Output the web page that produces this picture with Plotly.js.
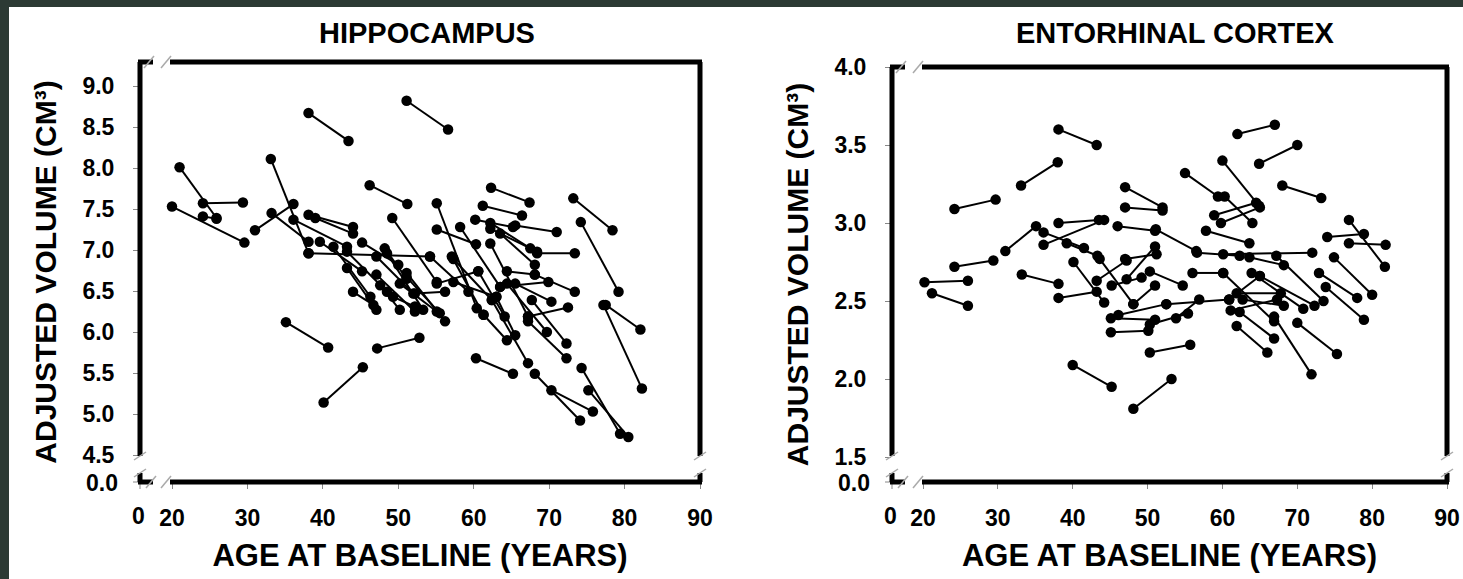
<!DOCTYPE html>
<html>
<head>
<meta charset="utf-8">
<script src="https://cdn.plot.ly/plotly-3.0.1.min.js"></script>
<style>html,body{margin:0;padding:0;background:#2c3a34;}#chart{width:1463px;height:579px;}</style>
</head>
<body>
<div id="chart"></div>
<script>
// ---------- DATA ----------
// Hippocampus: baseline age/volume and follow-up age/volume for each subject
const hippoAge1 = [38.1,21.0,20.0,24.1,24.1,33.1,31.0,33.2,36.1,38.1,39.0,35.1,40.1,38.1,39.6,41.4,43.2,43.2,45.2,44.0,46.2,47.2,
  47.1,48.2,48.5,47.1,47.6,49.3,49.2,50.2,51.1,51.1,51.1,52.2,54.2,55.1,55.1,57.3,57.1,57.3,58.2,55.1,
  60.2,65.5,61.2,62.3,62.2,62.2,63.5,62.2,60.6,64.4,63.5,64.4,65.5,62.4,63.0,61.3,67.7,67.2,68.1,67.2,68.4,60.3,68.1,70.3,74.3,75.2,73.2,74.2,77.2,77.5];
const hippoVol1 = [8.67,8.01,7.53,7.57,7.41,8.11,7.24,7.45,7.37,7.43,7.39,6.12,5.14,6.96,7.10,7.04,6.98,6.78,7.09,6.49,7.79,5.80,
  6.92,7.02,6.96,6.70,6.57,6.43,7.39,6.59,6.72,8.82,6.67,6.47,6.92,7.57,7.25,6.89,6.92,6.61,7.28,6.59,
  7.37,7.30,7.54,7.76,7.33,7.26,7.20,7.08,6.74,6.74,6.55,6.59,6.59,6.39,6.43,6.21,6.39,6.13,6.70,6.19,6.96,5.68,5.49,5.29,5.56,5.29,7.63,7.34,6.33,6.33];
const hippoAge2 = [43.4,25.9,29.6,29.4,25.9,38.1,36.1,38.1,43.2,44.0,44.0,40.7,45.3,54.2,45.2,46.3,48.5,47.1,50.0,46.7,51.2,52.8,
  52.0,51.1,53.3,52.2,50.2,52.2,55.1,55.1,56.2,56.6,55.5,56.2,59.3,60.4,60.3,62.4,61.3,63.0,63.5,60.6,
  65.2,71.0,66.4,67.4,67.5,68.4,68.1,67.2,64.1,68.1,69.9,69.7,70.3,67.2,65.5,64.4,72.3,72.3,73.4,72.5,73.4,65.2,74.1,75.8,79.4,80.5,78.4,79.2,82.3,82.1];
const hippoVol2 = [8.33,7.39,7.09,7.58,7.38,6.96,7.56,7.10,7.04,7.28,7.20,5.81,5.57,6.92,6.74,6.43,6.49,6.27,6.82,6.33,7.56,5.93,
  6.47,6.65,6.27,6.25,6.27,6.31,6.61,6.25,6.13,8.47,6.23,6.49,6.49,6.29,7.07,6.39,6.21,6.43,6.55,6.74,
  7.28,7.22,7.42,7.58,7.02,6.98,6.82,6.19,6.19,6.70,6.61,6.00,6.37,5.62,5.96,5.90,5.86,5.68,6.49,6.30,6.96,5.49,4.92,5.03,4.76,4.72,7.24,6.49,5.31,6.03];

// Entorhinal cortex
const ecAge1 = [20.2,21.2,24.2,24.2,31.0,33.1,38.1,33.2,38.1,36.1,36.1,38.1,40.0,48.1,47.0,47.0,46.0,55.0,60.0,62.0,64.9,68.0,58.9,59.8,60.3,57.8,51.1,60.1,
  74.0,76.9,76.9,74.9,72.9,73.8,70.0,66.9,61.9,45.1,45.1,46.1,50.3,40.1,39.2,43.2,45.2,43.6,47.2,47.0,48.1,50.3,50.3,53.8,52.5,56.0,56.6,61.1,62.3,61.9,62.7,63.9,65.0,63.6,67.2,60.1,60.9];
const ecVol1 = [2.62,2.55,3.09,2.72,2.82,3.24,3.60,2.67,3.00,2.86,2.94,2.52,2.09,1.81,3.23,3.10,2.98,3.32,3.40,3.57,3.38,3.24,3.05,3.00,3.17,2.95,2.96,2.80,
  2.91,3.02,2.87,2.78,2.68,2.59,2.36,2.40,2.34,2.30,2.39,2.41,2.17,2.75,2.87,2.63,2.60,2.77,2.64,2.77,2.48,2.69,2.35,2.39,2.48,2.68,2.81,2.44,2.43,2.55,2.51,2.68,2.66,2.78,2.79,2.68,2.51];
const ecAge2 = [26.0,26.0,29.7,29.4,35.1,38.0,43.2,38.1,43.5,44.2,41.5,43.2,45.2,53.2,52.0,52.0,51.0,59.4,64.9,67.0,70.0,73.2,64.5,65.0,64.0,63.6,56.5,72.0,
  78.9,81.7,81.8,80.0,78.0,78.9,75.3,71.9,66.0,50.1,51.0,52.5,55.7,44.2,43.3,47.2,49.2,48.1,51.0,51.2,51.0,54.7,55.4,56.9,60.9,60.1,62.3,67.3,66.9,67.8,68.2,70.8,72.3,68.2,73.5,66.9,65.0];
const ecVol2 = [2.63,2.47,3.15,2.76,2.98,3.39,3.50,2.61,3.02,3.02,2.84,2.56,1.95,2.00,3.10,3.08,2.95,3.17,3.11,3.63,3.50,3.16,3.13,3.10,3.00,2.87,2.82,2.81,
  2.93,2.72,2.86,2.54,2.52,2.38,2.16,2.03,2.17,2.31,2.38,2.48,2.22,2.49,2.79,2.76,2.65,2.48,2.85,2.80,2.60,2.60,2.42,2.51,2.51,2.68,2.79,2.51,2.26,2.55,2.47,2.45,2.47,2.73,2.50,2.37,2.66];

const xTicks = [20,30,40,50,60,70,80,90];
const hippoYTicks = [4.5,5.0,5.5,6.0,6.5,7.0,7.5,8.0,8.5,9.0];
const ecYTicks = [1.5,2.0,2.5,3.0,3.5,4.0];
const zeroXLabel = '0';
const zeroYLabel = '0.0';
const panelTitles = ['HIPPOCAMPUS','ENTORHINAL CORTEX'];
const xTitle = 'AGE AT BASELINE (YEARS)';
const yTitle = 'ADJUSTED VOLUME (CM³)';

// ---------- helpers ----------
const W = 1463, H = 579;
const PX = v => v / W;
const PY = v => 1 - v / H;
function pairs(a1, v1, a2, v2) {
  const x = [], y = [];
  for (let i = 0; i < a1.length; i++) { x.push(a1[i], a2[i], null); y.push(v1[i], v2[i], null); }
  return {x, y};
}
const FONT = 'Liberation Sans, Arial, sans-serif';
const TICK_SIZE = 23;
const tickFont = {family: FONT, size: TICK_SIZE, color: '#000', weight: 700};
const xTitleFont = {family: FONT, size: 31, color: '#000', weight: 700};
const yTitleFont = {family: FONT, size: 30, color: '#000', weight: 700};
const panelFont = {family: FONT, size: 29, color: '#000', weight: 700};

const L = {x0: 140, x1: 700, y0: 62, y1: 482};
const R = {x0: 892, x1: 1447, y0: 67, y1: 482};

const hp = pairs(hippoAge1, hippoVol1, hippoAge2, hippoVol2);
const ep = pairs(ecAge1, ecVol1, ecAge2, ecVol2);
const mk = {symbol: 'circle', size: 10.5, color: '#000'};
const ln = {color: '#000', width: 2};
const traces = [
  {type: 'scatter', mode: 'lines+markers', x: hp.x, y: hp.y, xaxis: 'x', yaxis: 'y', marker: mk, line: ln, connectgaps: false, hoverinfo: 'x+y', showlegend: false},
  {type: 'scatter', mode: 'lines+markers', x: ep.x, y: ep.y, xaxis: 'x2', yaxis: 'y2', marker: mk, line: ln, connectgaps: false, hoverinfo: 'x+y', showlegend: false}
];

const baseAxis = {showgrid: false, zeroline: false, showline: false, ticks: 'outside', ticklen: 6, tickwidth: 1, tickcolor: '#888', tickfont: tickFont, fixedrange: true};

function shapesFor(P) {
  const s = [];
  const thick = {color: '#000', width: 5};
  const slash = {color: '#aaa', width: 1.5};
  const tick = {color: '#888', width: 1};
  const gx0 = P.x0 + 13, gx1 = P.x0 + 30;  // x-break gap
  const gy0 = 456, gy1 = 473;              // y-break gap
  const seg = (x0, y0, x1, y1, line) => s.push({type: 'line', xref: 'paper', yref: 'paper', x0: PX(x0), y0: PY(y0), x1: PX(x1), y1: PY(y1), line});
  // zero ticks of the broken axes
  seg(P.x0, P.y1, P.x0, P.y1 + 7, tick);
  seg(P.x0 - 7, P.y1, P.x0, P.y1, tick);
  // top
  seg(P.x0 - 2, P.y0, gx0, P.y0, thick); seg(gx1, P.y0, P.x1 + 2, P.y0, thick);
  // bottom
  seg(P.x0 - 2, P.y1, gx0, P.y1, thick); seg(gx1, P.y1, P.x1 + 2, P.y1, thick);
  // left
  seg(P.x0, P.y0, P.x0, gy0, thick); seg(P.x0, gy1, P.x0, P.y1, thick);
  // right
  seg(P.x1, P.y0, P.x1, gy0, thick); seg(P.x1, gy1, P.x1, P.y1, thick);
  // slashes
  [[gx0 - 4, P.y0], [gx1 - 4, P.y0], [gx0 - 2, P.y1], [gx1 - 4, P.y1]].forEach(([cx, cy]) => seg(cx - 5, cy + 6, cx + 5, cy - 6, slash));
  [[P.x0, gy0], [P.x0, gy1], [P.x1, gy0], [P.x1, gy1]].forEach(([cx, cy]) => seg(cx - 6, cy + 4, cx + 6, cy - 4, slash));
  return s;
}
function zeroLabels(P) {
  return [
    {text: zeroXLabel, xref: 'paper', yref: 'paper', x: PX(P.x0 - 2), y: PY(516), showarrow: false, font: tickFont, xanchor: 'center', yanchor: 'middle'},
    {text: zeroYLabel, xref: 'paper', yref: 'paper', x: PX(P.x0 - 20), y: PY(P.y1 + 1), showarrow: false, font: tickFont, xanchor: 'right', yanchor: 'middle'}
  ];
}

const layout = {
  width: W, height: H, autosize: false,
  margin: {l: 0, r: 0, t: 0, b: 0, pad: 0},
  paper_bgcolor: '#2c3a34', plot_bgcolor: 'rgba(0,0,0,0)',
  showlegend: false,
  xaxis: Object.assign({}, baseAxis, {domain: [PX(L.x0), PX(L.x1)], range: [15.757, 90], tickvals: xTicks, anchor: 'y', ticklabelstandoff: 9,
    title: {text: xTitle, font: xTitleFont, standoff: 14}}),
  yaxis: Object.assign({}, baseAxis, {domain: [PY(L.y1), PY(L.y0)], range: [4.1707, 9.2927], tickvals: hippoYTicks, tickformat: '.1f', anchor: 'x', ticklabelstandoff: 14,
    title: {text: yTitle, font: yTitleFont, standoff: 16}}),
  xaxis2: Object.assign({}, baseAxis, {domain: [PX(R.x0), PX(R.x1)], range: [15.859, 90], tickvals: xTicks, anchor: 'y2', ticklabelstandoff: 9,
    title: {text: xTitle, font: xTitleFont, standoff: 14}}),
  yaxis2: Object.assign({}, baseAxis, {domain: [PY(R.y1), PY(R.y0)], range: [1.34, 4.0], tickvals: ecYTicks, tickformat: '.1f', anchor: 'x2', ticklabelstandoff: 14,
    title: {text: yTitle, font: yTitleFont, standoff: 16}}),
  shapes: [{type: 'rect', xref: 'paper', yref: 'paper', x0: PX(9), x1: 1, y0: 0, y1: PY(7), fillcolor: '#fff', line: {width: 0}, layer: 'below'}]
    .concat(shapesFor(L), shapesFor(R)),
  annotations: [
    {text: panelTitles[0], xref: 'paper', yref: 'paper', x: PX(427), y: PY(33), showarrow: false, font: panelFont, xanchor: 'center', yanchor: 'middle'},
    {text: panelTitles[1], xref: 'paper', yref: 'paper', x: PX(1175), y: PY(33), showarrow: false, font: panelFont, xanchor: 'center', yanchor: 'middle'}
  ].concat(zeroLabels(L), zeroLabels(R))
};

Plotly.newPlot('chart', traces, layout, {displayModeBar: false, staticPlot: true});
</script>
</body>
</html>
